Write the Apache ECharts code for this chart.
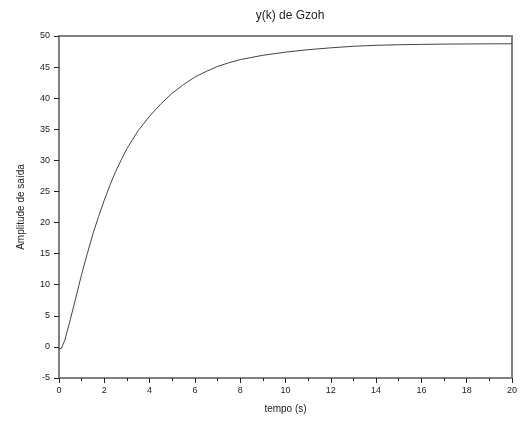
<!DOCTYPE html>
<html>
<head>
<meta charset="utf-8">
<script src="https://cdn.jsdelivr.net/npm/echarts@6/dist/echarts.min.js"></script>
<style>html,body{margin:0;padding:0;background:#fff}#c{width:520px;height:424px}</style>
</head>
<body>
<div id="c"></div>
<script>
const titleText = "y(k) de Gzoh";
const xName = "tempo (s)";
const yName = "Amplitude de saída";
const tempo = [0,0.1,0.25,0.5,0.75,1,1.25,1.5,1.75,2,2.25,2.5,2.75,3,3.5,4,4.5,5,5.5,6,6.5,7,7.5,8,9,10,11,12,13,14,15,16,17,18,19,20];
const saida = [-0.3,-0.25,1.0,4.4,8.0,11.7,15.0,18.2,21.0,23.6,26.0,28.2,30.1,31.9,34.8,37.1,39.1,40.8,42.2,43.4,44.3,45.1,45.7,46.2,46.9,47.4,47.8,48.1,48.35,48.5,48.6,48.65,48.7,48.72,48.74,48.75];

const axisCol = '#808080';
const font = 'Liberation Sans, Arial, sans-serif';
const chart = echarts.init(document.getElementById('c'), null, {renderer:'canvas'});
chart.setOption({
  animation:false,
  backgroundColor:'#fff',
  title:{text:titleText,left:285,top:5,textAlign:'center',textStyle:{fontSize:12,fontWeight:'normal',color:'#222',fontFamily:font}},
  grid:{left:59,right:8,top:36,bottom:46},
  xAxis:[{
    type:'value',min:0,max:20,interval:2,
    name:xName,nameLocation:'middle',nameGap:26,
    nameTextStyle:{fontSize:10,color:'#222',fontFamily:font},
    axisLine:{onZero:false,lineStyle:{color:axisCol,width:2}},
    axisTick:{show:true,length:5,lineStyle:{color:'#222',width:1}},
    minorTick:{show:true,splitNumber:2,length:3,lineStyle:{color:'#222'}},
    axisLabel:{fontSize:9,color:'#222',fontFamily:font,margin:8},
    splitLine:{show:false}
  },{
    type:'value',min:0,max:20,position:'top',
    axisLine:{show:true,onZero:false,lineStyle:{color:axisCol,width:2}},
    axisTick:{show:false},axisLabel:{show:false},splitLine:{show:false}
  }],
  yAxis:[{
    type:'value',min:-5,max:50,interval:5,
    name:yName,nameLocation:'middle',nameGap:33,
    nameTextStyle:{fontSize:10,color:'#222',fontFamily:font},
    axisLine:{show:true,onZero:false,lineStyle:{color:axisCol,width:2}},
    axisTick:{show:true,length:5,lineStyle:{color:'#222',width:1}},
    axisLabel:{fontSize:9,color:'#222',fontFamily:font,margin:9},
    splitLine:{show:false}
  },{
    type:'value',min:-5,max:50,position:'right',
    axisLine:{show:true,onZero:false,lineStyle:{color:axisCol,width:2}},
    axisTick:{show:false},axisLabel:{show:false},splitLine:{show:false}
  }],
  series:[{
    type:'line',smooth:false,showSymbol:false,
    data:tempo.map((t,i)=>[t,saida[i]]),
    lineStyle:{color:'#444',width:1}
  }]
});
</script>
</body>
</html>
